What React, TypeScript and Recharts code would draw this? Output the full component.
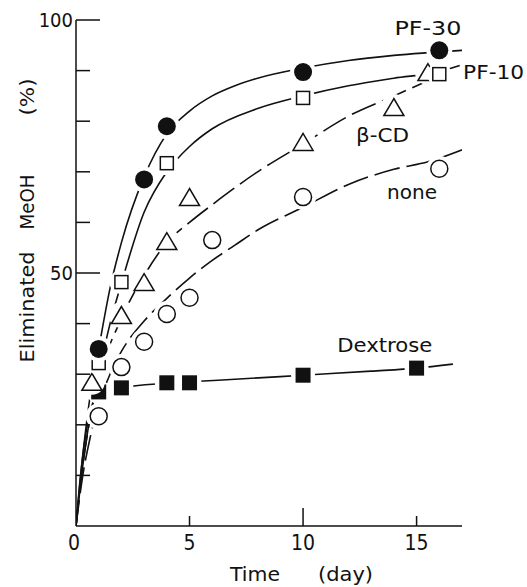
import { ComposedChart, Line, Scatter, XAxis, YAxis, ReferenceDot } from 'recharts';

// measured points (day, % eliminated MeOH)
const pf30X = [1, 3, 4, 10, 16];
const pf30Y = [35, 68.5, 79, 89.7, 94];
const pf10X = [1, 2, 4, 10, 16];
const pf10Y = [32.2, 48.2, 71.7, 84.6, 89.3];
const cdX = [0.7, 2, 3, 4, 5, 10, 14, 15.5];
const cdY = [28.5, 41.7, 48.2, 56.3, 65, 75.9, 82.8, 89.7];
const noneX = [1, 2, 3, 4, 5, 6, 10, 16];
const noneY = [21.7, 31.4, 36.4, 41.9, 45.1, 56.5, 65, 70.6];
const dexX = [1, 2, 4, 5, 10, 15];
const dexY = [26.5, 27.3, 28.3, 28.3, 29.8, 31.2];

// hand-drawn fitted curves
const pf30CurveX = [0, 0.3, 0.6, 1, 1.5, 2, 3, 4, 5, 6, 7, 8, 10, 12, 14, 17];
const pf30CurveY = [0, 14, 25, 35, 47, 56, 69, 77.5, 82, 85, 87, 88.5, 90.5, 92, 93, 94];
const pf10CurveX = [0, 0.3, 0.6, 1, 1.5, 2, 3, 4, 5, 6, 8, 10, 12, 14, 16, 16.9];
const pf10CurveY = [0, 12, 21, 30, 40, 48, 62, 70, 75, 78.5, 82.5, 85, 87, 88.5, 89.8, 91];
const cdCurveX = [0, 0.3, 0.7, 1, 2, 3, 4, 5, 6, 8, 10, 12, 14, 15.5];
const cdCurveY = [0, 12, 23, 29, 41, 49.5, 56, 60, 63.5, 70, 75.5, 81, 85, 88];
const noneCurveX = [0, 0.3, 0.6, 1, 1.5, 2, 3, 4, 5, 6, 7, 8, 10, 12, 14, 15.5, 17.2];
const noneCurveY = [0, 10, 17, 24, 30, 34.5, 40.5, 45, 49, 52.5, 55.5, 58.5, 63, 67.5, 70.5, 72, 74.7];
const dexCurveX = [0, 0.2, 0.5, 1, 2, 4, 5, 7, 10, 13, 15, 16.6];
const dexCurveY = [0, 10, 20, 26, 27.3, 28.2, 28.5, 29, 29.8, 30.6, 31.2, 32];

const xTicks = [0, 5, 10, 15];
const yTicks = [0, 10, 20, 30, 40, 50, 60, 70, 80, 90, 100];

const zip = (xs: number[], ys: number[]) => xs.map((x, i) => ({ x, y: ys[i] }));

const INK = '#111';
const FONT = "'Liberation Sans Narrow', 'DejaVu Sans Condensed', 'DejaVu Sans', sans-serif";
const HALO = 13;

const FilledCircle = ({ cx, cy }: any) => (
  <g>
    <circle cx={cx} cy={cy} r={HALO} fill="#fff" />
    <circle cx={cx} cy={cy} r={9} fill={INK} />
  </g>
);

const OpenSquare = ({ cx, cy }: any) => (
  <g>
    <circle cx={cx} cy={cy} r={HALO - 1} fill="#fff" />
    <rect x={cx - 6.5} y={cy - 6.5} width={13} height={13} fill="#fff" stroke={INK} strokeWidth={1.5} />
  </g>
);

const OpenTriangle = ({ cx, cy }: any) => (
  <g>
    <circle cx={cx} cy={cy} r={HALO} fill="#fff" />
    <polygon
      points={`${cx},${cy - 8.5} ${cx - 10},${cy + 8.5} ${cx + 10},${cy + 8.5}`}
      fill="#fff"
      stroke={INK}
      strokeWidth={1.5}
      strokeLinejoin="miter"
    />
  </g>
);

const OpenCircle = ({ cx, cy }: any) => (
  <g>
    <circle cx={cx} cy={cy} r={HALO} fill="#fff" />
    <circle cx={cx} cy={cy} r={8.5} fill="#fff" stroke={INK} strokeWidth={1.5} />
  </g>
);

const FilledSquare = ({ cx, cy }: any) => (
  <g>
    <circle cx={cx} cy={cy} r={HALO - 1} fill="#fff" />
    <rect x={cx - 7.5} y={cy - 7.5} width={15} height={15} fill={INK} />
  </g>
);

const YTick = (p: any) => {
  const v = p.payload.value;
  if (v === 0) return <g />;
  const major = v % 50 === 0;
  return (
    <g>
      <line x1={p.x} x2={p.x + (major ? 24 : 14)} y1={p.y} y2={p.y} stroke={INK} strokeWidth={1.5} />
      {major && (
        <text x={p.x - 3} y={p.y} textAnchor="end" dominantBaseline="central" fontFamily={FONT} fontSize={20} fill={INK}>
          {v}
        </text>
      )}
    </g>
  );
};

const XTick = (p: any) => {
  const v = p.payload.value;
  const len = v === 0 ? 0 : v === 10 ? 18 : 10;
  return (
    <g>
      {len > 0 && <line x1={p.x} x2={p.x} y1={p.y} y2={p.y - len} stroke={INK} strokeWidth={1.5} />}
      <text x={p.x - (v === 0 ? 2 : 0)} y={p.y + 17} textAnchor="middle" dominantBaseline="central" fontFamily={FONT} fontSize={21} fill={INK}>
        {v}
      </text>
    </g>
  );
};

const YTitle = ({ viewBox }: any) => {
  const cx = viewBox.x - 9;
  const top = viewBox.y;
  const part = (t: string, cy: number, len: number) => (
    <text
      x={cx}
      y={cy}
      transform={`rotate(-90 ${cx} ${cy})`}
      textAnchor="middle"
      dominantBaseline="central"
      fontFamily={FONT}
      fontSize={20}
      fill={INK}
      textLength={len}
      lengthAdjust="spacingAndGlyphs"
    >
      {t}
    </text>
  );
  return (
    <g>
      {part('Eliminated', top + 287, 111)}
      {part('MeOH', top + 182, 55)}
      {part('(%)', top + 77, 37)}
    </g>
  );
};

const XTitle = ({ viewBox }: any) => {
  const y = viewBox.y + 48;
  const left = viewBox.x;
  return (
    <g fontFamily={FONT} fontSize={19} fill={INK}>
      <text x={left + 154} y={y} dominantBaseline="central" textLength={50} lengthAdjust="spacingAndGlyphs">
        Time
      </text>
      <text x={left + 242} y={y} dominantBaseline="central" textLength={55} lengthAdjust="spacingAndGlyphs">
        (day)
      </text>
    </g>
  );
};

const tag = (text: string, width: number, anchor: 'start' | 'middle' = 'middle') => (p: any) => (
  <text
    x={p.cx}
    y={p.cy}
    textAnchor={anchor}
    dominantBaseline="central"
    fontFamily={FONT}
    fontSize={20}
    fill={INK}
    textLength={width}
    lengthAdjust="spacingAndGlyphs"
  >
    {text}
  </text>
);

const curves = [
  { key: 'pf30', data: zip(pf30CurveX, pf30CurveY), dash: undefined },
  { key: 'pf10', data: zip(pf10CurveX, pf10CurveY), dash: undefined },
  { key: 'cd', data: zip(cdCurveX, cdCurveY), dash: '26 7' },
  { key: 'none', data: zip(noneCurveX, noneCurveY), dash: '26 7' },
  { key: 'dex', data: zip(dexCurveX, dexCurveY), dash: undefined },
];

export default function App() {
  return (
    <div style={{ position: 'absolute', left: 0, top: 0, background: '#fff' }}>
      <ComposedChart width={527} height={587} margin={{ top: 20, right: 65, bottom: 31, left: 36 }}>
        <XAxis
          dataKey="x"
          type="number"
          domain={[0, 17]}
          ticks={xTicks}
          allowDataOverflow
          height={30}
          tickSize={0}
          tickMargin={0}
          tick={<XTick />}
          axisLine={{ stroke: INK, strokeWidth: 1.5 }}
          label={{ content: <XTitle /> }}
        />
        <YAxis
          dataKey="y"
          type="number"
          domain={[0, 100]}
          ticks={yTicks}
          allowDataOverflow
          width={40}
          tickSize={0}
          tickMargin={0}
          tick={<YTick />}
          axisLine={{ stroke: INK, strokeWidth: 1.5 }}
          label={{ content: <YTitle /> }}
        />
        {curves.map((c) => (
          <Line
            key={c.key}
            data={c.data}
            dataKey="y"
            type="monotone"
            stroke={INK}
            strokeWidth={1.6}
            strokeDasharray={c.dash}
            dot={false}
            activeDot={false}
            isAnimationActive={false}
          />
        ))}
        <Scatter data={zip(dexX, dexY)} dataKey="y" shape={<FilledSquare />} isAnimationActive={false} />
        <Scatter data={zip(noneX, noneY)} dataKey="y" shape={<OpenCircle />} isAnimationActive={false} />
        <Scatter data={zip(cdX, cdY)} dataKey="y" shape={<OpenTriangle />} isAnimationActive={false} />
        <Scatter data={zip(pf10X, pf10Y)} dataKey="y" shape={<OpenSquare />} isAnimationActive={false} />
        <Scatter data={zip(pf30X, pf30Y)} dataKey="y" shape={<FilledCircle />} isAnimationActive={false} />
        <ReferenceDot x={15.5} y={98.4} r={0} ifOverflow="visible" shape={tag('PF-30', 67)} />
        <ReferenceDot x={17.05} y={89.7} r={0} ifOverflow="visible" shape={tag('PF-10', 61, 'start')} />
        <ReferenceDot x={13.5} y={77.3} r={0} ifOverflow="visible" shape={tag('β-CD', 53)} />
        <ReferenceDot x={14.8} y={66} r={0} ifOverflow="visible" shape={tag('none', 50)} />
        <ReferenceDot x={13.6} y={35.8} r={0} ifOverflow="visible" shape={tag('Dextrose', 95)} />
      </ComposedChart>
    </div>
  );
}
